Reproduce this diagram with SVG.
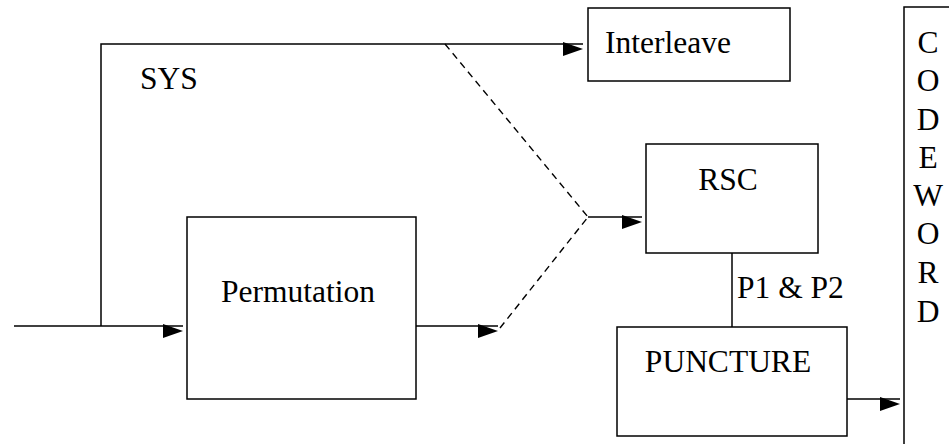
<svg xmlns="http://www.w3.org/2000/svg" width="949" height="444" viewBox="0 0 949 444">
<defs>
<style>
.box{fill:none;stroke:#000;stroke-width:1.5}
.ln{fill:none;stroke:#000;stroke-width:1.5}
.dash{fill:none;stroke:#000;stroke-width:1.4;stroke-dasharray:7 5}
text{font-family:'Liberation Serif',serif;font-size:31.5px;fill:#000}
</style>
<marker id="ah" markerUnits="userSpaceOnUse" markerWidth="22" markerHeight="16" refX="20" refY="2" orient="auto">
<path d="M0,0 L20,7 L0,14 Z" fill="#000"/>
</marker>
</defs>
<rect width="949" height="444" fill="#fff"/>
<g id="connectors">
<path class="ln" d="M14,326 H183" marker-end="url(#ah)"/>
<path class="ln" d="M101,326 V44 H583" marker-end="url(#ah)"/>
<path class="dash" d="M445,44 L588,217"/>
<path class="ln" d="M416,326 H498" marker-end="url(#ah)"/>
<path class="dash" d="M500,328 L588,217"/>
<path class="ln" d="M588,217 H642" marker-end="url(#ah)"/>
<path class="ln" d="M732,253 V327"/>
<path class="ln" d="M847,399 H900" marker-end="url(#ah)"/>
<text font-family="Liberation Serif, serif" x="140" y="89">SYS</text>
<text font-family="Liberation Serif, serif" x="737" y="298">P1 &amp; P2</text>
</g>
<g id="permutation">
<rect class="box" x="187" y="217" width="229" height="182"/>
<text font-family="Liberation Serif, serif" x="298" y="302" text-anchor="middle">Permutation</text>
</g>
<g id="interleave">
<rect class="box" x="588" y="8" width="202" height="73"/>
<text font-family="Liberation Serif, serif" x="605" y="53">Interleave</text>
</g>
<g id="rsc">
<rect class="box" x="646" y="144" width="172" height="109"/>
<text font-family="Liberation Serif, serif" x="728" y="190" text-anchor="middle">RSC</text>
</g>
<g id="puncture">
<rect class="box" x="617" y="327" width="230" height="109"/>
<text font-family="Liberation Serif, serif" x="728" y="372" text-anchor="middle">PUNCTURE</text>
</g>
<g id="codeword">
<path class="box" d="M904,460 V7 H960"/>
<g text-anchor="middle">
<text font-family="Liberation Serif, serif" x="928" y="53">C</text>
<text font-family="Liberation Serif, serif" x="928" y="91">O</text>
<text font-family="Liberation Serif, serif" x="928" y="130">D</text>
<text font-family="Liberation Serif, serif" x="928" y="168">E</text>
<text font-family="Liberation Serif, serif" x="928" y="206">W</text>
<text font-family="Liberation Serif, serif" x="928" y="244">O</text>
<text font-family="Liberation Serif, serif" x="928" y="283">R</text>
<text font-family="Liberation Serif, serif" x="928" y="322">D</text>
</g>
</g>
</svg>
